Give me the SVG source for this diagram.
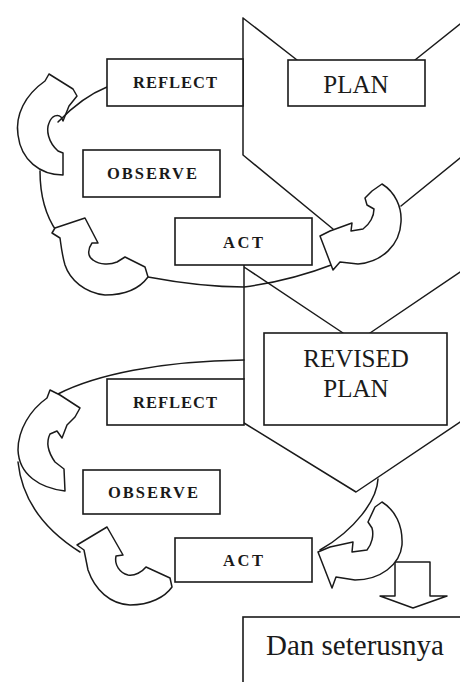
<svg xmlns="http://www.w3.org/2000/svg" width="460" height="682" viewBox="0 0 460 682">
<style>
.ln{fill:none;stroke:#1a1a1a;stroke-width:1.5;stroke-linejoin:round;stroke-linecap:round}
.bx{fill:#fff;stroke:#1a1a1a;stroke-width:1.6}
.ar{fill:#fff;stroke:#1a1a1a;stroke-width:1.5;stroke-linejoin:round}
.sm{font-family:"Liberation Serif","Times New Roman",serif;font-weight:bold;font-size:16.5px;fill:#1a1a1a;text-anchor:middle}
.lg{font-family:"Liberation Serif","Times New Roman",serif;font-size:25px;fill:#1a1a1a;text-anchor:middle}
</style>
<rect width="460" height="682" fill="#fff"/>
<g id="connectors">
<path class="ln" d="M243,18 L243,155 M243,18 L297,60 M415,60 L460,24 M243,155 L333,229 M460,158 L401,206"/>
<path class="ln" d="M40,171 C40,195 45,215 57,232"/>
<path class="ln" d="M148,277 C180,283 215,287 244,287 Q290,281 334,264"/>
<path class="ln" d="M244,265 L244,379 M244,267 L343,333 M460,272 L370,333"/>
<path class="ln" d="M244,360 C160,361 95,375 58,394"/>
<path class="ln" d="M18,462 C22,500 45,530 80,552"/>
<path class="ln" d="M244,423 L356,492 L460,422"/>
</g>
<g id="arrow-a"><path class="ar" d="M63,175 L63,153 L58,151 C48,142 46,130 49,123 C52,115 58,114 61,117 L63,121 L69,106 L77,96 L73,89 L49,74 L45,81 C25,95 15,115 18,135 C21,160 40,175 63,175 Z"/></g>
<g id="arrow-b"><path class="ar" d="M52,233 L55,228 L85,218 L98,243 L92,243 C87,250 88,257 93,260 C100,265 110,265 117,262 L125,257 L145,267 L148,277 C140,288 125,295 105,295 C85,293 70,280 65,265 C62,255 61,245 60,238 Z"/></g>
<g id="arrow-c"><path class="ar" d="M382,184 C395,192 402,207 401,222 C400,245 382,262 358,264 L340,262 L333,270 L320,236 L330,231 L352,223 L351,231 L363,229 C370,224 374,216 374,209 L367,205 L365,198 L372,191 Z"/></g>
<g id="arrow-d"><path class="ar" d="M50,390 L47,398 C30,410 18,430 18,450 C19,475 40,488 65,491 L64,469 L55,462 C48,452 46,442 50,434 L57,431 L62,438 L67,425 L75,417 L80,408 L60,395 Z"/></g>
<g id="arrow-e"><path class="ar" d="M77,545 L107,527 L123,555 L116,556 C114,565 120,573 128,575 C135,576 142,572 146,567 L170,578 L172,587 C165,597 150,605 130,605 C110,604 95,590 88,570 C86,560 85,555 84,550 Z"/></g>
<path class="ln" d="M107,87 Q82,97 58,122"/>
<path class="ln" d="M378,479 C377,500 355,530 320,550"/>
<g id="down-arrow"><path class="ar" d="M395,562 L430,562 L430,596 L447,596 L413,608 L380,596 L395,596 Z"/></g>
<g id="arrow-f"><path class="ar" d="M382,502 C395,510 403,525 402,545 C400,565 380,580 355,580 L336,577 L332,588 L318,552 L330,547 L353,542 L352,552 L367,550 C372,544 374,535 372,528 L368,522 L375,507 Z"/></g>
<g id="reflect1"><rect class="bx" x="107" y="59" width="136" height="47"/><text class="sm" x="175" y="88" textLength="84">REFLECT</text></g>
<g id="plan"><rect class="bx" x="288" y="60" width="137" height="46"/><text class="lg" x="356" y="93">PLAN</text></g>
<g id="observe1"><rect class="bx" x="83" y="150" width="137" height="47"/><text class="sm" x="152" y="179" textLength="90">OBSERVE</text></g>
<g id="act1"><rect class="bx" x="175" y="218" width="137" height="47"/><text class="sm" x="243" y="248" textLength="40">ACT</text></g>
<g id="revised-plan"><rect class="bx" x="264" y="333" width="183" height="92"/><text class="lg" x="356" y="367">REVISED</text><text class="lg" x="356" y="397">PLAN</text></g>
<g id="reflect2"><rect class="bx" x="107" y="379" width="137" height="46"/><text class="sm" x="175" y="408" textLength="84">REFLECT</text></g>
<g id="observe2"><rect class="bx" x="83" y="470" width="137" height="44"/><text class="sm" x="153" y="498" textLength="90">OBSERVE</text></g>
<g id="act2"><rect class="bx" x="175" y="538" width="137" height="44"/><text class="sm" x="243" y="566" textLength="40">ACT</text></g>
<g id="dan-seterusnya"><rect class="bx" x="243" y="617" width="240" height="90"/><text class="lg" x="355" y="655" style="font-size:29px">Dan seterusnya</text></g>
</svg>
